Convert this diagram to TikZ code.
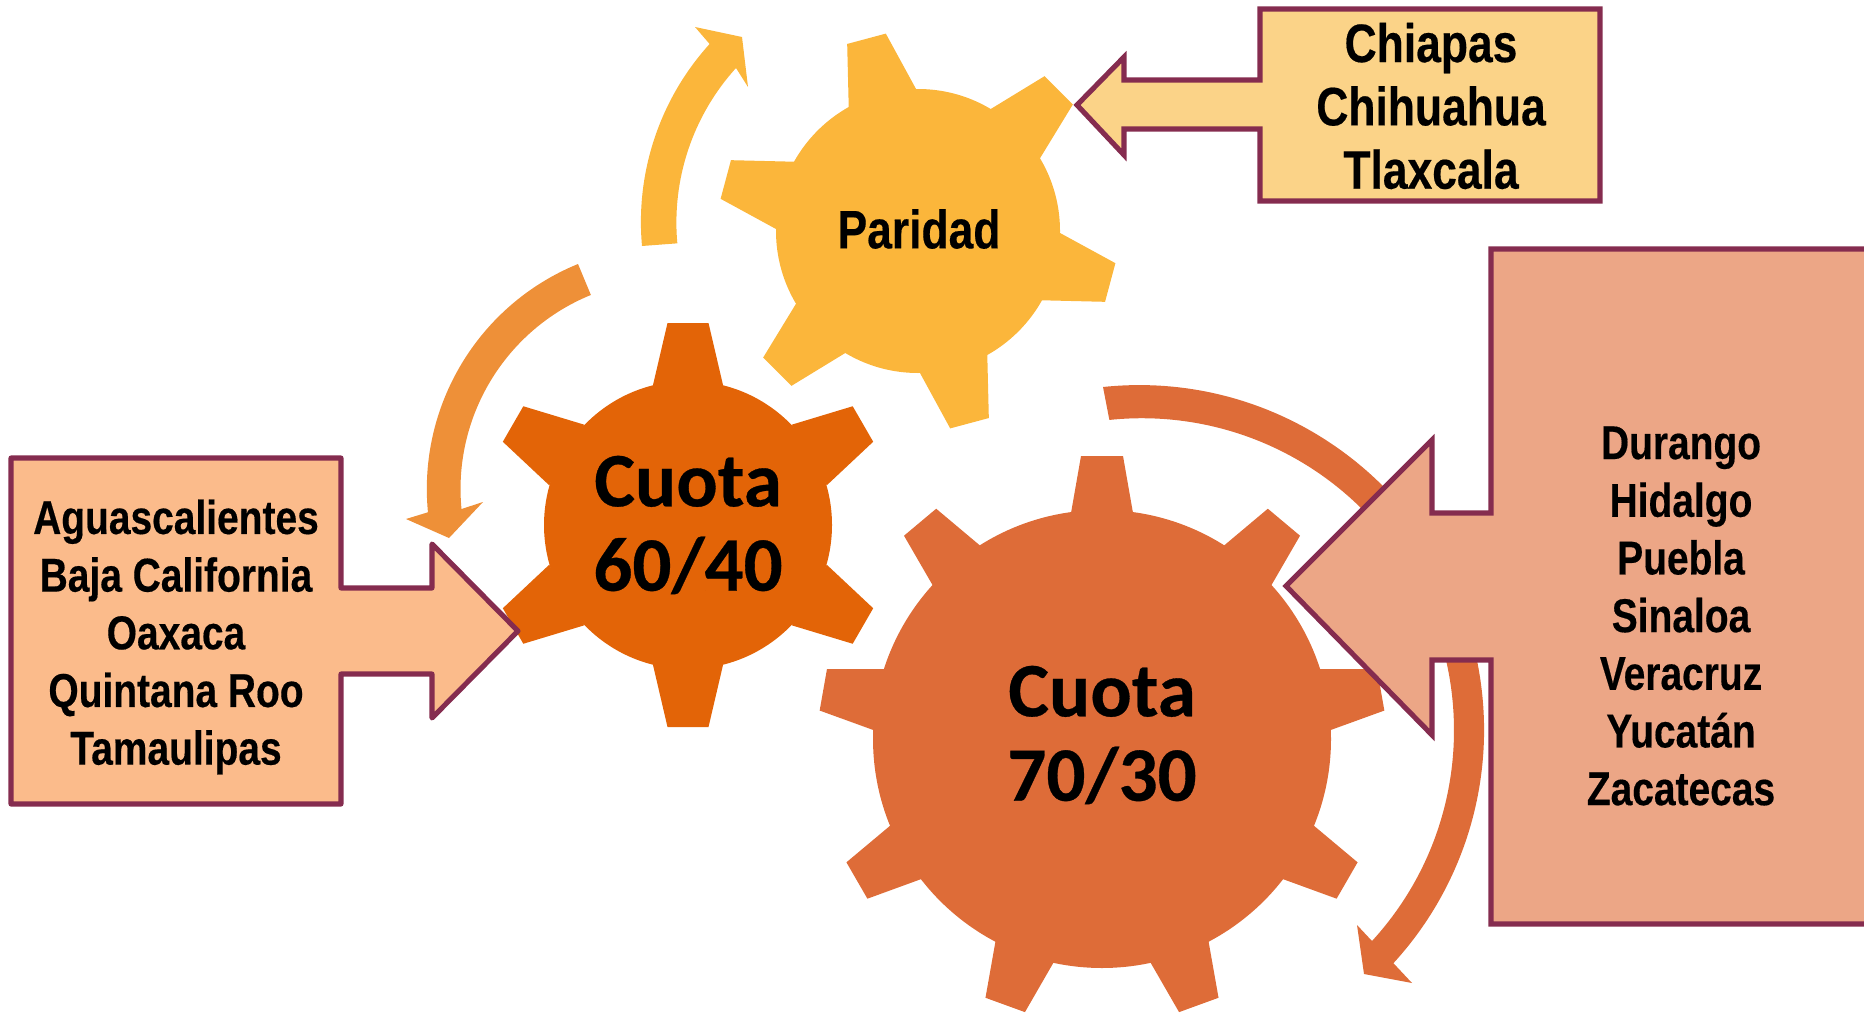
\documentclass[tikz,border=0pt]{standalone}
\usepackage{fontspec}
\setmainfont{Liberation Sans}[FakeStretch=0.82,BoldFeatures={FakeBold=0.35}]
\newfontfamily\gearfont{Carlito}[BoldFeatures={FakeBold=0.4}]
\usepackage{xcolor}
\definecolor{paridadcol}{HTML}{FBB63B}
\definecolor{sixtycol}{HTML}{E36407}
\definecolor{seventycol}{HTML}{DE6C38}
\definecolor{arcocol}{HTML}{EE9038}
\definecolor{chiapascol}{HTML}{FBD388}
\definecolor{aguascol}{HTML}{FBBB8B}
\definecolor{durangocol}{HTML}{ECA686}
\definecolor{bordecol}{HTML}{852C4F}
\tikzset{
	callout/.style={draw=bordecol,line width=1.45pt,line join=miter},
	bigstate/.style={font=\fontsize{15.4}{18}\selectfont\bfseries,align=center,inner sep=0pt},
	liststate/.style={font=\fontsize{13.5}{16.4}\selectfont\bfseries,align=center,inner sep=0pt},
	geartext/.style={font=\gearfont\fontsize{21.9}{24}\selectfont\bfseries,align=center,inner sep=0pt}
}

\begin{document}
\begin{tikzpicture}
			[line cap=butt,x=0.01cm,y=0.01cm]
			\useasboundingbox (0,0) rectangle (1864,1014);
			\fill [paridadcol] (918,783) circle (142);
			\foreach \a in {45,105,...,345}
				\fill [paridadcol,shift={(918,783)},rotate=\a] (137,35) -- (199,20) -- (199,-20) -- (137,-35) -- cycle;
			\fill [sixtycol] (688,489) circle (144);
			\foreach \a in {30,90,...,330}
				\fill [sixtycol,shift={(688,489)},rotate=\a] (140,35) -- (202,20.5) -- (202,-20.5) -- (140,-35) -- cycle;
			\fill [seventycol] (1102,275) circle (229);
			\foreach \a in {90,50,...,-230}
				\fill [seventycol,shift={(1102,275)},rotate=\a] (226,31) -- (283,21) -- (283,-21) -- (226,-31) -- cycle;
			\fill [paridadcol] (642,768) arc[start angle=185.2,end angle=137.8,radius=265] -- (695,987) -- (742,977) -- (748,927) -- (736,946) arc[start angle=137.8,end angle=185.2,radius=230] -- cycle;
			\fill [arcocol] (578,750) arc[start angle=112.2,end angle=185.5,radius=243] -- (406,495) -- (449,476) -- (483,512) -- (461.5,505) arc[start angle=185.5,end angle=112.2,radius=209.5] -- cycle;
			\fill [seventycol] (1103,627) arc[start angle=96,end angle=-42.5,radius=345] -- (1412,31) -- (1364,40) -- (1357,89) -- (1372,73) arc[start angle=-42.5,end angle=96,radius=312] -- cycle;
			\draw [callout,fill=chiapascol] (1260,1005) -- (1600,1005) -- (1600,813) -- (1260,813) -- (1260,885) -- (1124,885) -- (1124,859) -- (1077,909) -- (1124,957) -- (1124,934) -- (1260,934) -- cycle;
			\draw [callout,fill=aguascol,line join=round] (11,556) -- (341,556) -- (341,426) -- (432,426) -- (432,470) -- (518,383) -- (432,296) -- (432,340) -- (341,340) -- (341,210) -- (11,210) -- cycle;
			\draw [callout,fill=durangocol] (1880,765) -- (1491,765) -- (1491,501) -- (1432,501) -- (1432,574) -- (1286,428) -- (1432,279) -- (1432,354) -- (1491,354) -- (1491,90) -- (1880,90) -- cycle;
			\node [geartext] (sixty) at (688,489) {Cuota\\60/40};
			\node [geartext] (seventy) at (1102,279) {Cuota\\70/30};
			\node [bigstate] (paridad) at (919,785) {Paridad};
			\node [bigstate] (chiapas) at (1431,908) {Chiapas\\Chihuahua\\Tlaxcala};
			\node [liststate] (aguas) at (176,377) {Aguascalientes\\Baja California\\Oaxaca\\Quintana Roo\\Tamaulipas};
			\node [liststate] (durango) at (1681,398) {Durango\\Hidalgo\\Puebla\\Sinaloa\\Veracruz\\Yucatán\\Zacatecas};
		\end{tikzpicture}
\end{document}
